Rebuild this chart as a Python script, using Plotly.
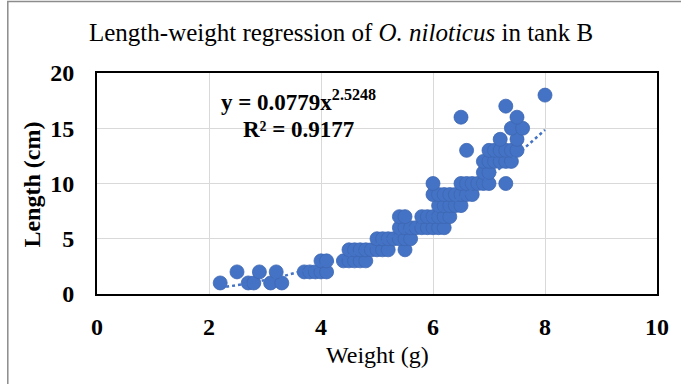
import numpy as np
import plotly.graph_objects as go

# Data: (weight g, length cm)
length_1 = [2.2, 2.7, 2.8, 3.1, 3.3]
length_2 = [2.5, 2.9, 3.2, 3.7, 3.8, 3.9, 4.0, 4.1]
length_3 = [4.0, 4.1, 4.4, 4.5, 4.6, 4.7, 4.8]
length_4 = [4.5, 4.6, 4.7, 4.8, 4.9, 5.0, 5.1, 5.2, 5.5]
length_5 = [5.0, 5.1, 5.2, 5.3, 5.4, 5.5, 5.6]
length_6 = [5.4, 5.5, 5.6, 5.7, 5.8, 5.9, 6.0, 6.1, 6.2]
length_7 = [5.4, 5.5, 5.8, 5.9, 6.0, 6.1, 6.2, 6.3]
length_8 = [6.1, 6.2, 6.3, 6.4, 6.5]
length_9 = [6.0, 6.1, 6.2, 6.3, 6.4, 6.5, 6.6, 6.7]
length_10 = [6.0, 6.5, 6.6, 6.7, 6.8, 6.9, 7.0, 7.3]
length_11 = [6.9, 7.0]
length_12 = [6.9, 7.0, 7.1, 7.2, 7.3, 7.4]
length_13 = [6.6, 7.0, 7.1, 7.2, 7.3, 7.4, 7.5]
length_14 = [7.2, 7.5]
length_15 = [7.4, 7.6]
length_16 = [6.5, 7.5]
length_17 = [7.3]
length_18 = [8.0]

groups = {1: length_1, 2: length_2, 3: length_3, 4: length_4, 5: length_5,
          6: length_6, 7: length_7, 8: length_8, 9: length_9, 10: length_10,
          11: length_11, 12: length_12, 13: length_13, 14: length_14,
          15: length_15, 16: length_16, 17: length_17, 18: length_18}

weights = []
lengths = []
for L, ws in groups.items():
    weights += ws
    lengths += [L] * len(ws)

# Power trendline shown on chart
coef_a = 0.0779
coef_b = 2.5248
r2 = 0.9177
trend_x = np.linspace(min(weights), max(weights), 100)
trend_y = coef_a * trend_x ** coef_b

x_ticks = [0, 2, 4, 6, 8, 10]
y_ticks = [0, 5, 10, 15, 20]

BLUE = "#4472C4"
SERIF = "Liberation Serif, Times New Roman, serif"

fig = go.Figure()
fig.add_trace(go.Scatter(
    x=weights, y=lengths, mode="markers",
    marker=dict(size=14, color=BLUE, line=dict(width=0.8, color="#3d67b3")),
    showlegend=False, cliponaxis=False))
fig.add_trace(go.Scatter(
    x=trend_x, y=trend_y, mode="lines",
    line=dict(color=BLUE, width=2.5, dash="dot"),
    showlegend=False))

fig.update_layout(
    width=681, height=384,
    margin=dict(l=97, r=19, t=73, b=90),
    paper_bgcolor="white", plot_bgcolor="white",
    font=dict(family=SERIF, color="black"),
    xaxis=dict(range=[0, 10], tickvals=x_ticks, showgrid=True, gridcolor="#d9d9d9",
               gridwidth=1, zeroline=False, showline=True, linecolor="black",
               linewidth=2, mirror=True, ticks="", ticklabelstandoff=10,
               tickfont=dict(family=SERIF, size=24, color="black", weight="bold")),
    yaxis=dict(range=[0, 20], tickvals=y_ticks, showgrid=True, gridcolor="#d9d9d9",
               gridwidth=1, zeroline=False, showline=True, linecolor="black",
               linewidth=2, mirror=True, ticks="", ticklabelstandoff=16,
               tickfont=dict(family=SERIF, size=24, color="black", weight="bold")),
    annotations=[
        dict(text="Length-weight regression of <i>O. niloticus</i> in tank B",
             xref="paper", yref="paper", x=(343 - 97) / 565, y=(294 - 32) / 221,
             xanchor="center", yanchor="middle", showarrow=False,
             font=dict(family=SERIF, size=25, color="black")),
        dict(text="Weight (g)", xref="paper", yref="paper",
             x=(380 - 97) / 565, y=(294 - 355) / 221,
             xanchor="center", yanchor="middle", showarrow=False,
             font=dict(family=SERIF, size=24, color="black")),
        dict(text="<b>Length (cm)</b>", xref="paper", yref="paper",
             x=(31 - 97) / 565, y=(294 - 185) / 221, textangle=-90,
             xanchor="center", yanchor="middle", showarrow=False,
             font=dict(family=SERIF, size=24, color="black")),
        dict(text=f"<b>y = {coef_a}x<sup>{coef_b}</sup></b>", xref="paper", yref="paper",
             x=(300 - 97) / 565, y=(294 - 100) / 221,
             xanchor="center", yanchor="middle", showarrow=False,
             font=dict(family=SERIF, size=23, color="black")),
        dict(text=f"<b>R² = {r2}</b>", xref="paper", yref="paper",
             x=(300 - 97) / 565, y=(294 - 129) / 221,
             xanchor="center", yanchor="middle", showarrow=False,
             font=dict(family=SERIF, size=23, color="black")),
    ],
    shapes=[dict(type="rect", xref="paper", yref="paper",
                 x0=(7 - 97) / 565, x1=(690 - 97) / 565,
                 y0=(294 - 400) / 221, y1=(294 - 1.5) / 221,
                 line=dict(color="#8c8c8c", width=1.5), layer="below")],
)

fig.write_html("out.html")
